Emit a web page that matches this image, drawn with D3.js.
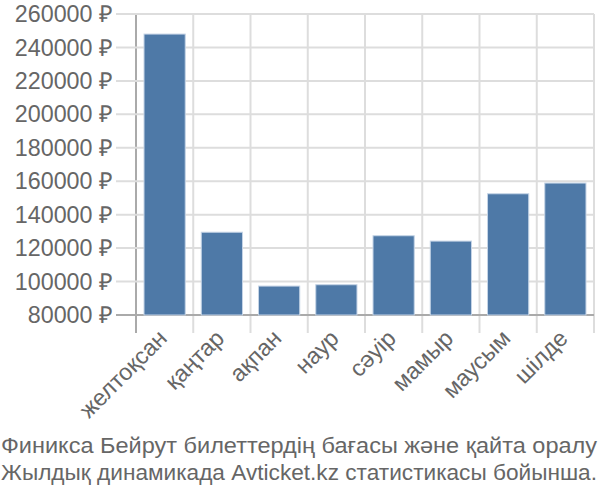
<!DOCTYPE html>
<html><head><meta charset="utf-8">
<script src="https://cdn.jsdelivr.net/npm/d3@7"></script>
<style>body{margin:0;background:#fff}svg{display:block}text{font-family:"Liberation Sans",Arial,sans-serif}</style>
</head><body><svg id="c" width="600" height="500"></svg>
<script>
const categories = ["желтоқсан","қаңтар","ақпан","наур","сәуір","мамыр","маусым","шілде"];
const values = [248000,129500,97300,98100,127400,124200,152500,158900];
const yTicks = [80000,100000,120000,140000,160000,180000,200000,220000,240000,260000];
const titleLines = ["Финикса Бейрут билеттердің бағасы және қайта оралу","Жылдық динамикада Avticket.kz статистикасы бойынша."];

(function(){
const svg = d3.select("#c");
const pl = 136, pr = 594, pt = 14, pb = 315;
const x = d3.scaleBand().domain(categories).range([pl, pr]).paddingInner(0.28).paddingOuter(0.14);
const y = d3.scaleLinear().domain([80000, 260000]).range([pb, pt]);
const grid = "#dddddd", axisCol = "#aaaaaa", textCol = "#666666";

const bounds = categories.map((c,i)=>pl + i*(pr-pl)/categories.length).concat([pr]);
svg.append("g").selectAll("line").data(bounds).join("line")
  .attr("x1",d=>d).attr("x2",d=>d).attr("y1",pt).attr("y2",pb+18)
  .attr("stroke",(d,i)=>i===0?axisCol:grid).attr("stroke-width",2);

svg.append("g").selectAll("line").data(yTicks).join("line")
  .attr("x1",pl-20).attr("x2",pr).attr("y1",d=>y(d)).attr("y2",d=>y(d))
  .attr("stroke",(d,i)=>i===0?axisCol:grid).attr("stroke-width",2);

const fmt = d => d + " ₽";
svg.append("g").selectAll("text").data(yTicks).join("text")
  .attr("x",pl-23).attr("y",d=>y(d)).attr("dy","0.35em").attr("text-anchor","end")
  .attr("fill",textCol).attr("font-size",23.3).text(fmt);

svg.append("g").selectAll("rect").data(values).join("rect")
  .attr("x",(d,i)=>x(categories[i])).attr("width",x.bandwidth())
  .attr("y",d=>y(d)).attr("height",d=>y(80000)-y(d))
  .attr("fill","#4e79a7").attr("stroke","#c5d4e6").attr("stroke-width",1);

svg.append("g").selectAll("text").data(categories).join("text")
  .attr("transform",d=>`translate(${x(d)+x.bandwidth()/2-2},${pb+19}) rotate(-45)`)
  .attr("text-anchor","end").attr("dy","0.35em")
  .attr("fill",textCol).attr("font-size",23.3).text(d=>d);

svg.append("g").selectAll("text").data(titleLines).join("text")
  .attr("x",1).attr("y",(d,i)=>453+i*27)
  .attr("textLength",596).attr("lengthAdjust","spacingAndGlyphs")
  .attr("fill",textCol).attr("font-size",22).text(d=>d);
})();
</script></body></html>
